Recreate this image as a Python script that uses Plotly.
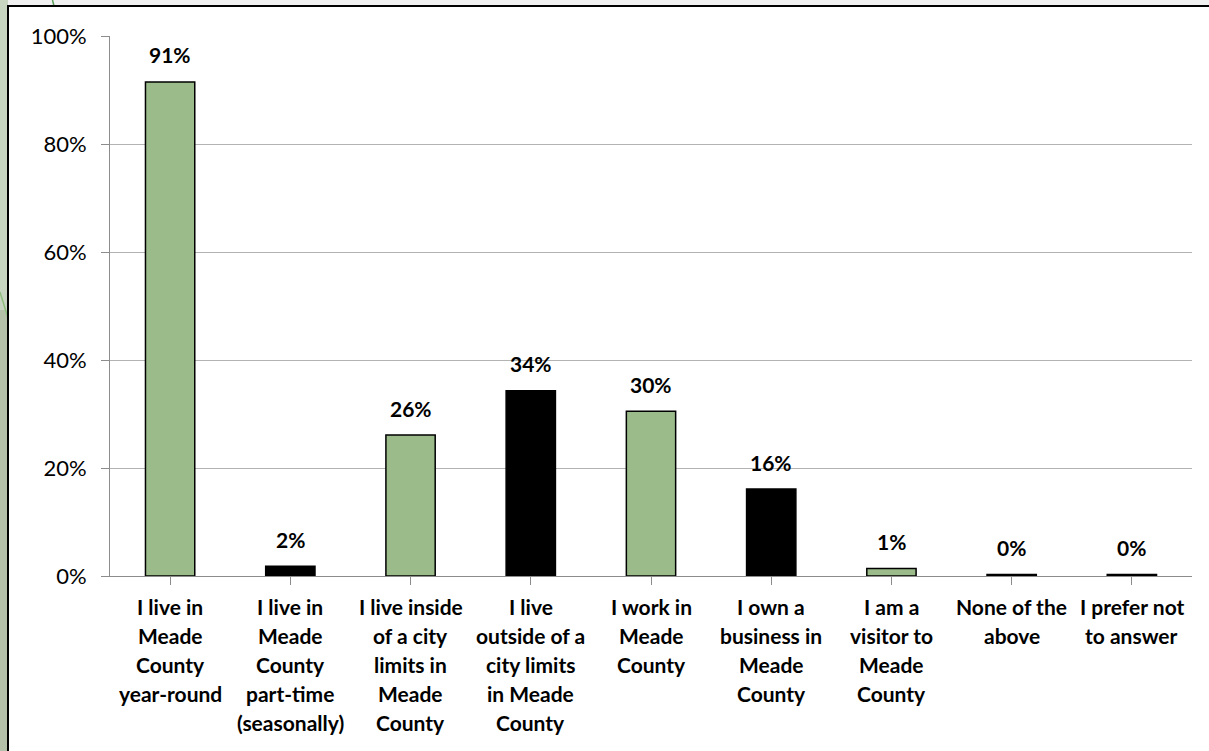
import plotly.graph_objects as go

categories = [
    "I live in<br>Meade<br>County<br>year-round",
    "I live in<br>Meade<br>County<br>part-time<br>(seasonally)",
    "I live inside<br>of a city<br>limits in<br>Meade<br>County",
    "I live<br>outside of a<br>city limits<br>in Meade<br>County",
    "I work in<br>Meade<br>County",
    "I own a<br>business in<br>Meade<br>County",
    "I am a<br>visitor to<br>Meade<br>County",
    "None of the<br>above",
    "I prefer not<br>to answer",
]
values = [0.915, 0.018, 0.261, 0.343, 0.305, 0.161, 0.014, 0.003, 0.003]
value_labels = ["91%", "2%", "26%", "34%", "30%", "16%", "1%", "0%", "0%"]
bar_colors = ["#9bbb8b", "#000000", "#9bbb8b", "#000000", "#9bbb8b",
              "#000000", "#9bbb8b", "#000000", "#9bbb8b"]
y_ticks = [0, 0.2, 0.4, 0.6, 0.8, 1.0]
y_tick_labels = ["0%", "20%", "40%", "60%", "80%", "100%"]

FONT = "Lato"
ids = list(range(len(categories)))

fig = go.Figure()
fig.add_trace(go.Bar(
    x=ids, y=values, width=0.41,
    marker=dict(color=bar_colors, line=dict(color="#000000", width=1.5)),
    hoverinfo="skip",
))

annotations = []
for i, (v, lab) in enumerate(zip(values, value_labels)):
    annotations.append(dict(
        x=i, y=v, xref="x", yref="y", text="<b>%s</b>" % lab, showarrow=False,
        yanchor="middle", yshift=27,
        font=dict(family=FONT, size=21, color="#000000"),
    ))
    for j, line in enumerate(categories[i].split("<br>")):
        annotations.append(dict(
            x=i, y=0, xref="x", yref="y", text="<b>%s</b>" % line, showarrow=False,
            yanchor="middle", yshift=-(30 + 29.2 * j),
            font=dict(family=FONT, size=21, color="#000000"),
        ))

# pixel -> paper helpers (plot area: x 110..1192, y 36..576)
def px(xp):
    return (xp - 110) / 1082.0

def py(yp):
    return (576 - yp) / 540.0

shapes = [
    dict(type="rect", xref="paper", yref="paper", x0=px(-5), x1=px(1215), y0=py(6), y1=py(-5),
         fillcolor="#f0f0f0", line=dict(width=0), layer="below"),
    dict(type="rect", xref="paper", yref="paper", x0=px(-5), x1=px(8), y0=py(310), y1=py(-5),
         fillcolor="#c8d5c1", line=dict(width=0), layer="below"),
    dict(type="rect", xref="paper", yref="paper", x0=px(-5), x1=px(8), y0=py(760), y1=py(310),
         fillcolor="#b4c1a8", line=dict(width=0), layer="below"),
    dict(type="line", xref="paper", yref="paper", x0=px(52), x1=px(54), y0=py(-2), y1=py(6),
         line=dict(color="#5aa05a", width=1.5), layer="below"),
    dict(type="line", xref="paper", yref="paper", x0=px(0), x1=px(8), y0=py(292), y1=py(318),
         line=dict(color="#8fbf7f", width=1.5), layer="below"),
    dict(type="rect", xref="paper", yref="paper", x0=px(8), x1=px(1215), y0=py(760), y1=py(6),
         fillcolor="rgba(0,0,0,0)", line=dict(color="#000000", width=2), layer="below"),
]

fig.update_layout(
    width=1209, height=751,
    margin=dict(l=110, r=17, t=36, b=175),
    paper_bgcolor="#ffffff", plot_bgcolor="#ffffff",
    showlegend=False,
    annotations=annotations,
    shapes=shapes,
    font=dict(family=FONT, size=21, color="#000000"),
)
fig.update_xaxes(
    range=[-0.5, len(categories) - 0.5],
    tickvals=ids, ticktext=[""] * len(ids),
    tickson="boundaries", ticks="outside", ticklen=8, tickcolor="#8c8c8c", tickwidth=1,
    showline=True, linecolor="#8c8c8c", linewidth=1,
    showgrid=False, zeroline=False, fixedrange=True,
)
fig.update_yaxes(
    range=[0, 1], tickvals=y_ticks, ticktext=y_tick_labels,
    ticks="outside", ticklen=8, tickcolor="#8c8c8c", tickwidth=1,
    showline=True, linecolor="#8c8c8c", linewidth=1,
    showgrid=True, gridcolor="#b3b3b3", gridwidth=1,
    zeroline=False, ticklabelstandoff=10,
    tickfont=dict(family=FONT, size=22, color="#000000"),
    fixedrange=True,
)

fig.write_html(
    "out.html",
    config={"displayModeBar": False},
    post_script="document.body.style.margin='0';document.body.style.padding='0';",
)
